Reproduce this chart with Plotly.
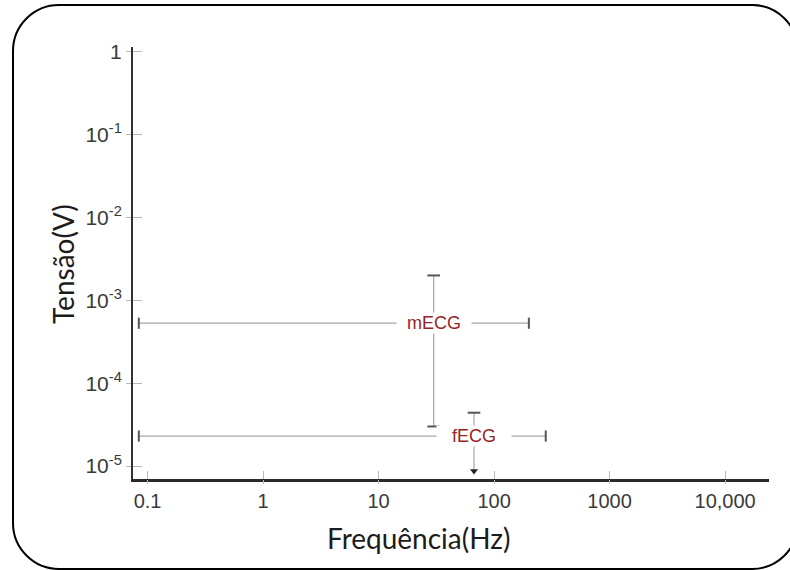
import math
import plotly.graph_objects as go

# ---- data ----
x_tick_vals = [0.1, 1, 10, 100, 1000, 10000]
x_tick_text = ["0.1", "1", "10", "100", "1000", "10,000"]
y_tick_vals = [1, 1e-1, 1e-2, 1e-3, 1e-4, 1e-5]
y_tick_text = ["1", "10<sup>-1</sup>", "10<sup>-2</sup>", "10<sup>-3</sup>", "10<sup>-4</sup>", "10<sup>-5</sup>"]

mecg_freq_range = [0.084, 200]
mecg_freq_center = 30
mecg_volt_range = [3.0e-5, 2.0e-3]
mecg_volt_center = 5.3e-4

fecg_freq_range = [0.084, 280]
fecg_freq_center = 67
fecg_volt_range = [8.7e-6, 4.4e-5]
fecg_volt_center = 2.3e-5

labels = ["mECG", "fECG"]

# ---- layout geometry ----
W, H = 790, 570
L, R, T, B = 133, 769, 47, 479


def px(x):
    return (x - L) / (R - L)


def py(y):
    return (B - y) / (B - T)


LINE_C = "#a6a6a6"
CAP_C = "#555555"
LBL_C = "#962626"

fig = go.Figure()

# mECG horizontal
fig.add_trace(go.Scatter(
    x=mecg_freq_range, y=[mecg_volt_center] * 2, mode="lines+markers",
    line=dict(color=LINE_C, width=1.2),
    marker=dict(symbol="line-ns", size=8, line=dict(color=CAP_C, width=2)),
    showlegend=False, hoverinfo="skip"))
# mECG vertical
fig.add_trace(go.Scatter(
    x=[mecg_freq_center] * 2, y=mecg_volt_range, mode="lines+markers",
    line=dict(color=LINE_C, width=1.2),
    marker=dict(symbol="line-ew", size=9, line=dict(color=CAP_C, width=2)),
    showlegend=False, hoverinfo="skip"))
# fECG horizontal
fig.add_trace(go.Scatter(
    x=fecg_freq_range, y=[fecg_volt_center] * 2, mode="lines+markers",
    line=dict(color=LINE_C, width=1.2),
    marker=dict(symbol="line-ns", size=8, line=dict(color=CAP_C, width=2)),
    showlegend=False, hoverinfo="skip"))
# fECG vertical
fig.add_trace(go.Scatter(
    x=[fecg_freq_center] * 2, y=fecg_volt_range, mode="lines",
    line=dict(color=LINE_C, width=1.2),
    showlegend=False, hoverinfo="skip"))
fig.add_trace(go.Scatter(
    x=[fecg_freq_center], y=[fecg_volt_range[1]], mode="markers",
    marker=dict(symbol="line-ew", size=9, line=dict(color=CAP_C, width=2)),
    showlegend=False, hoverinfo="skip"))
fig.add_trace(go.Scatter(
    x=[fecg_freq_center], y=[fecg_volt_range[0]], mode="markers",
    marker=dict(symbol="triangle-down", size=7, color="#222222", line=dict(width=0)),
    showlegend=False, hoverinfo="skip"))

# overlay axes for the crossing tick parts
fig.add_trace(go.Scatter(x=[1], y=[1e-3], xaxis="x2", yaxis="y2", mode="markers",
                         marker=dict(opacity=0), showlegend=False, hoverinfo="skip"))

XTICK_FONT = dict(family="Liberation Sans, Arial", size=20, color="#3a3a3a")
YTICK_FONT = dict(family="Liberation Sans, Arial", size=21, color="#3a3a3a")
xr = [-1.126, 4.38]
yr = [-5.157, 0.06]

fig.update_layout(
    width=W, height=H,
    margin=dict(l=L, r=W - R, t=T, b=H - B),
    paper_bgcolor="white", plot_bgcolor="white",
    xaxis=dict(type="log", range=xr, tickvals=x_tick_vals, ticktext=x_tick_text,
               ticks="inside", ticklen=8, tickcolor="#b8b8b8", tickwidth=1,
               showgrid=False, zeroline=False, showline=True, linecolor="#2a2a2a",
               linewidth=3, tickfont=XTICK_FONT, ticklabelstandoff=2),
    yaxis=dict(type="log", range=yr, tickvals=y_tick_vals, ticktext=y_tick_text,
               ticks="outside", ticklen=5, tickcolor="#b8b8b8", tickwidth=1,
               showgrid=False, zeroline=False, showline=True, linecolor="#333333",
               linewidth=2, tickfont=YTICK_FONT),
    xaxis2=dict(type="log", range=xr, tickvals=x_tick_vals, overlaying="x",
                side="bottom", ticks="outside", ticklen=4, tickcolor="#b8b8b8",
                showticklabels=False, showgrid=False, zeroline=False, showline=False),
    yaxis2=dict(type="log", range=yr, tickvals=y_tick_vals, overlaying="y",
                side="left", ticks="inside", ticklen=9, tickcolor="#b8b8b8",
                showticklabels=False, showgrid=False, zeroline=False, showline=False),
)

LBL_FONT = dict(family="Liberation Sans, Arial", size=18, color=LBL_C)
# annotation positions on log axes are given in log10 units
fig.add_annotation(x=math.log10(mecg_freq_center), y=math.log10(mecg_volt_center),
                   xref="x", yref="y",
                   text="&nbsp;&nbsp;" + labels[0] + "&nbsp;&nbsp;", showarrow=False,
                   font=LBL_FONT, bgcolor="white", borderpad=0,
                   xanchor="center", yanchor="middle")
fig.add_annotation(x=math.log10(fecg_freq_center), y=math.log10(fecg_volt_center),
                   xref="x", yref="y",
                   text="&nbsp;&nbsp;&nbsp;" + labels[1] + "&nbsp;&nbsp;&nbsp;", showarrow=False,
                   font=LBL_FONT, bgcolor="white", borderpad=0,
                   xanchor="center", yanchor="middle")

TITLE_FONT = dict(family="Lato", size=28, color="#1c1c1c")
fig.add_annotation(x=px(418.5), y=py(538), xref="paper", yref="paper",
                   text="Frequência(Hz)", showarrow=False, font=TITLE_FONT,
                   xanchor="center", yanchor="middle")
fig.add_annotation(x=px(63), y=py(264), xref="paper", yref="paper",
                   text="Tensão(V)", showarrow=False, font=TITLE_FONT, textangle=-90,
                   xanchor="center", yanchor="middle")

# rounded frame
x0, y0, x1, y1, r = 13, 5, 798, 569, 46
k = 0.5523 * r
path = (
    f"M {px(x0 + r)},{py(y0)} L {px(x1 - r)},{py(y0)} "
    f"C {px(x1 - r + k)},{py(y0)} {px(x1)},{py(y0 + r - k)} {px(x1)},{py(y0 + r)} "
    f"L {px(x1)},{py(y1 - r)} "
    f"C {px(x1)},{py(y1 - r + k)} {px(x1 - r + k)},{py(y1)} {px(x1 - r)},{py(y1)} "
    f"L {px(x0 + r)},{py(y1)} "
    f"C {px(x0 + r - k)},{py(y1)} {px(x0)},{py(y1 - r + k)} {px(x0)},{py(y1 - r)} "
    f"L {px(x0)},{py(y0 + r)} "
    f"C {px(x0)},{py(y0 + r - k)} {px(x0 + r - k)},{py(y0)} {px(x0 + r)},{py(y0)} Z"
)
fig.add_shape(type="path", path=path, xref="paper", yref="paper",
              line=dict(color="black", width=2), layer="above")

fig.write_html("out.html")
